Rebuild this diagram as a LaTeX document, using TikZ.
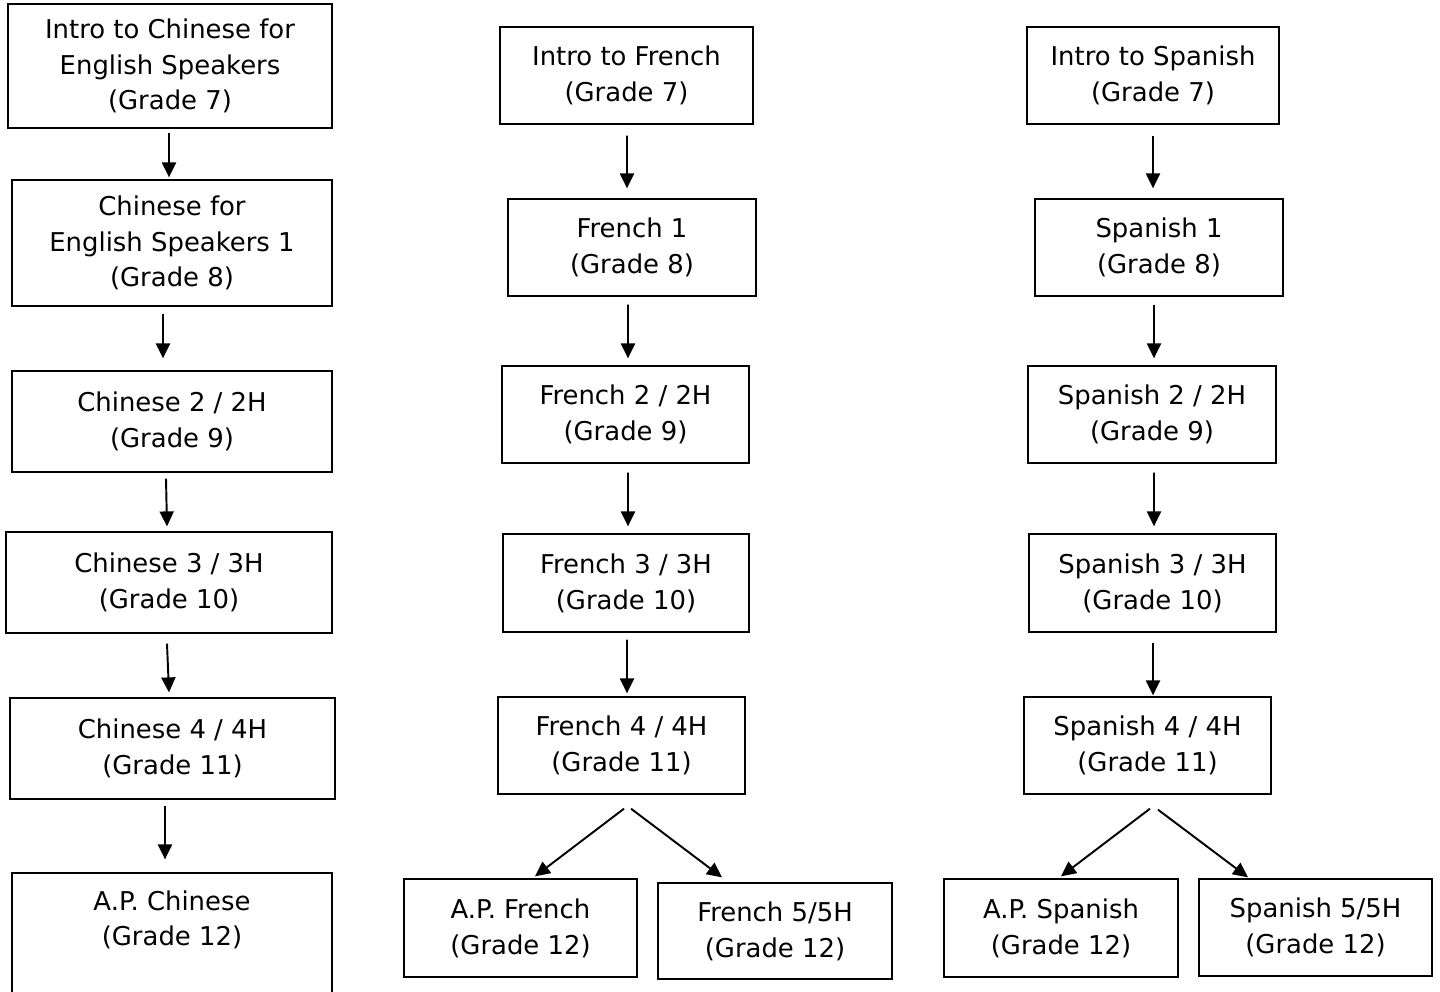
\documentclass[tikz,border=0pt]{standalone}
\usepackage{fontspec}
\setmainfont{DejaVu Sans}
\usepackage{tikz}
\usetikzlibrary{arrows.meta,backgrounds}

\begin{document}
\begin{tikzpicture}[x=0.02cm, y=-0.02cm,
	background rectangle/.style={fill=white}, show background rectangle, inner frame sep=0pt,
	course/.style 2 args={draw, line width=0.75pt, align=center, inner sep=0pt,
		minimum width=#1*0.02cm, minimum height=#2*0.02cm,
		font=\fontsize{14.74}{20.4}\selectfont},
	flow/.style={line width=1.1pt, -{Triangle[length=8.5pt, width=8pt]}}]

	\useasboundingbox (0,0) rectangle (1440,991);

	% Chinese
	\node[course={324}{124}] (chi1) at (170,66) {Intro to Chinese for\\English Speakers\\(Grade 7)};
	\node[course={320}{126}] (chi2) at (172,243) {Chinese for\\English Speakers 1\\(Grade 8)};
	\node[course={320}{101}] (chi3) at (172,421.5) {Chinese 2 / 2H\\(Grade 9)};
	\node[course={326}{101}] (chi4) at (169,582.5) {Chinese 3 / 3H\\(Grade 10)};
	\node[course={325}{101}] (chi5) at (172.5,748.5) {Chinese 4 / 4H\\(Grade 11)};
	\node[course={320}{137}] (chi6) at (172,941.5) {A.P. Chinese\\(Grade 12)\\\strut};

	\draw[flow] ([shift={(-1,4)}]chi1.south) -- ([shift={(-3,-2)}]chi2.north);
	\draw[flow] ([shift={(-9,7)}]chi2.south) -- ([shift={(-9,-12)}]chi3.north);
	\draw[flow] ([shift={(-6,6)}]chi3.south) -- ([shift={(-2,-5)}]chi4.north);
	\draw[flow] ([shift={(-2,10)}]chi4.south) -- ([shift={(-3.5,-5)}]chi5.north);
	\draw[flow] ([shift={(-7.5,6)}]chi5.south) -- ([shift={(-7,-13)}]chi6.north);

	% French
	\node[course={253}{97}] (fre1) at (626.5,75.5) {Intro to French\\(Grade 7)};
	\node[course={248}{97}] (fre2) at (632,247.5) {French 1\\(Grade 8)};
	\node[course={247}{97}] (fre3) at (625.5,414.5) {French 2 / 2H\\(Grade 9)};
	\node[course={246}{98}] (fre4) at (626,583) {French 3 / 3H\\(Grade 10)};
	\node[course={247}{97}] (fre5) at (621.5,745.5) {French 4 / 4H\\(Grade 11)};
	\node[course={233}{98}] (fre6) at (520.5,928) {A.P. French\\(Grade 12)};
	\node[course={234}{96}] (fre7) at (775,931) {French 5/5H\\(Grade 12)};

	\draw[flow] ([shift={(0.5,11)}]fre1.south) -- ([shift={(-5,-10)}]fre2.north);
	\draw[flow] ([shift={(-4,8)}]fre2.south) -- ([shift={(2.5,-7)}]fre3.north);
	\draw[flow] ([shift={(2.5,9)}]fre3.south) -- ([shift={(2,-7)}]fre4.north);
	\draw[flow] ([shift={(1,7)}]fre4.south) -- ([shift={(5.5,-3)}]fre5.north);
	\draw[flow] ([shift={(2.5,14)}]fre5.south) -- ([shift={(14.5,-2)}]fre6.north);
	\draw[flow] ([shift={(9.5,14)}]fre5.south) -- ([shift={(-53,-5)}]fre7.north);

	% Spanish
	\node[course={252}{97}] (spa1) at (1153,75.5) {Intro to Spanish\\(Grade 7)};
	\node[course={248}{97}] (spa2) at (1159,247.5) {Spanish 1\\(Grade 8)};
	\node[course={248}{97}] (spa3) at (1152,414.5) {Spanish 2 / 2H\\(Grade 9)};
	\node[course={247}{98}] (spa4) at (1152.5,583) {Spanish 3 / 3H\\(Grade 10)};
	\node[course={247}{97}] (spa5) at (1147.5,745.5) {Spanish 4 / 4H\\(Grade 11)};
	\node[course={234}{98}] (spa6) at (1061,928) {A.P. Spanish\\(Grade 12)};
	\node[course={233}{97}] (spa7) at (1315.5,927.5) {Spanish 5/5H\\(Grade 12)};

	\draw[flow] ([shift={(0,11)}]spa1.south) -- ([shift={(-6,-10)}]spa2.north);
	\draw[flow] ([shift={(-5,8)}]spa2.south) -- ([shift={(2,-7)}]spa3.north);
	\draw[flow] ([shift={(2,9)}]spa3.south) -- ([shift={(1.5,-7)}]spa4.north);
	\draw[flow] ([shift={(0.5,10)}]spa4.south) -- ([shift={(5.5,-1)}]spa5.north);
	\draw[flow] ([shift={(2.5,14)}]spa5.south) -- ([shift={(0,-2)}]spa6.north);
	\draw[flow] ([shift={(10.5,15)}]spa5.south) -- ([shift={(-67.5,-1)}]spa7.north);

\end{tikzpicture}
\end{document}
